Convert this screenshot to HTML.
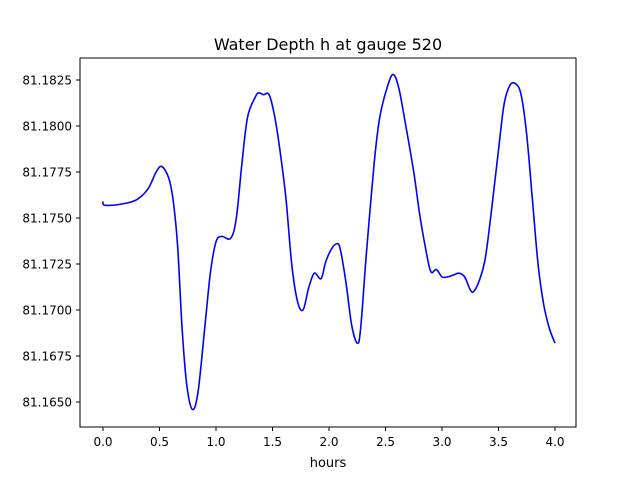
<!DOCTYPE html>
<html><head><meta charset="utf-8"><style>
body{margin:0;background:#fff;font-family:"Liberation Sans","DejaVu Sans",sans-serif;}
svg text{font-family:"DejaVu Sans","Liberation Sans",sans-serif;}
</style></head><body>
<svg id="chart" width="640" height="480" xmlns="http://www.w3.org/2000/svg">
<rect width="640" height="480" fill="#fff"/>
<text x="328" y="50" font-size="16" text-anchor="middle">Water Depth h at gauge 520</text>
<g id="plot"></g>
<rect x="80" y="58" width="496" height="369" fill="none" stroke="#000" stroke-width="1"/>
<text x="328" y="467" font-size="13" text-anchor="middle">hours</text>
</svg>
<script>
const hours=[0,0.01,0.1,0.2,0.3,0.4,0.47,0.52,0.58,0.62,0.66,0.7,0.74,0.79,0.84,0.9,0.95,1.0,1.05,1.13,1.18,1.23,1.28,1.35,1.38,1.42,1.47,1.52,1.57,1.62,1.67,1.72,1.77,1.82,1.87,1.93,1.97,2.02,2.07,2.1,2.15,2.2,2.25,2.28,2.33,2.4,2.45,2.52,2.57,2.62,2.68,2.75,2.8,2.85,2.9,2.95,3.0,3.05,3.1,3.15,3.2,3.25,3.28,3.33,3.38,3.43,3.5,3.55,3.6,3.65,3.7,3.75,3.8,3.85,3.9,3.95,4.0];
const depth=[81.1759,81.1757,81.1757,81.1758,81.1760,81.1766,81.1775,81.1778,81.1772,81.1760,81.1735,81.1690,81.1660,81.1646,81.1655,81.1690,81.1720,81.1737,81.1740,81.1739,81.1750,81.1780,81.1805,81.1816,81.1818,81.1817,81.1817,81.1805,81.1785,81.1760,81.1725,81.1705,81.1700,81.1712,81.1720,81.1717,81.1726,81.1733,81.1736,81.1733,81.1715,81.1692,81.1682,81.1690,81.1730,81.1780,81.1805,81.1822,81.1828,81.1820,81.1800,81.1775,81.1753,81.1735,81.1721,81.1722,81.1718,81.1718,81.1719,81.1720,81.1718,81.1711,81.1710,81.1716,81.1727,81.1750,81.1787,81.1812,81.1822,81.1823,81.1817,81.1795,81.1760,81.1725,81.1703,81.1690,81.1682];
const xTicks=[0,0.5,1,1.5,2,2.5,3,3.5,4];
const xTickLabels=["0.0","0.5","1.0","1.5","2.0","2.5","3.0","3.5","4.0"];
const yTicks=[81.165,81.1675,81.17,81.1725,81.175,81.1775,81.18,81.1825];
const yTickLabels=["81.1650","81.1675","81.1700","81.1725","81.1750","81.1775","81.1800","81.1825"];
const NS="http://www.w3.org/2000/svg";
function sx(t){return 103+(t-0)*113;}
function sy(v){return 80+(81.1825-v)*18400;}
const g=document.getElementById('plot');
function mk(tag,attrs){const e=document.createElementNS(NS,tag);for(const k in attrs)e.setAttribute(k,attrs[k]);g.appendChild(e);return e;}
xTicks.forEach((t,i)=>{
 const l=mk('line',{x1:sx(t),x2:sx(t),y1:427,y2:431,stroke:'#000'});
 
 
 const tx=mk('text',{x:sx(t),y:446,'font-size':12,'text-anchor':'middle'});
 tx.textContent=xTickLabels[i];
 
 
});
yTicks.forEach((v,i)=>{
 const l=mk('line',{x1:76,x2:80,y1:sy(v),y2:sy(v),stroke:'#000'});
 
 
 const tx=mk('text',{x:72,y:sy(v)+4.5,'font-size':12,'text-anchor':'end'});
 tx.textContent=yTickLabels[i];
 
 
});
// Catmull-Rom smoothed path
const P=hours.map((t,i)=>[sx(t),sy(depth[i])]);
let d='M'+P[0][0]+','+P[0][1];
for(let i=0;i<P.length-1;i++){
 const p0=P[Math.max(0,i-1)],p1=P[i],p2=P[i+1],p3=P[Math.min(P.length-1,i+2)];
 const c1=[p1[0]+(p2[0]-p0[0])/6,p1[1]+(p2[1]-p0[1])/6];
 const c2=[p2[0]-(p3[0]-p1[0])/6,p2[1]-(p3[1]-p1[1])/6];
 d+=' C'+c1[0]+','+c1[1]+' '+c2[0]+','+c2[1]+' '+p2[0]+','+p2[1];
}
const line=mk('path',{d:d,fill:'none',stroke:'#0000ff','stroke-width':1.6});


</script>
</body></html>
